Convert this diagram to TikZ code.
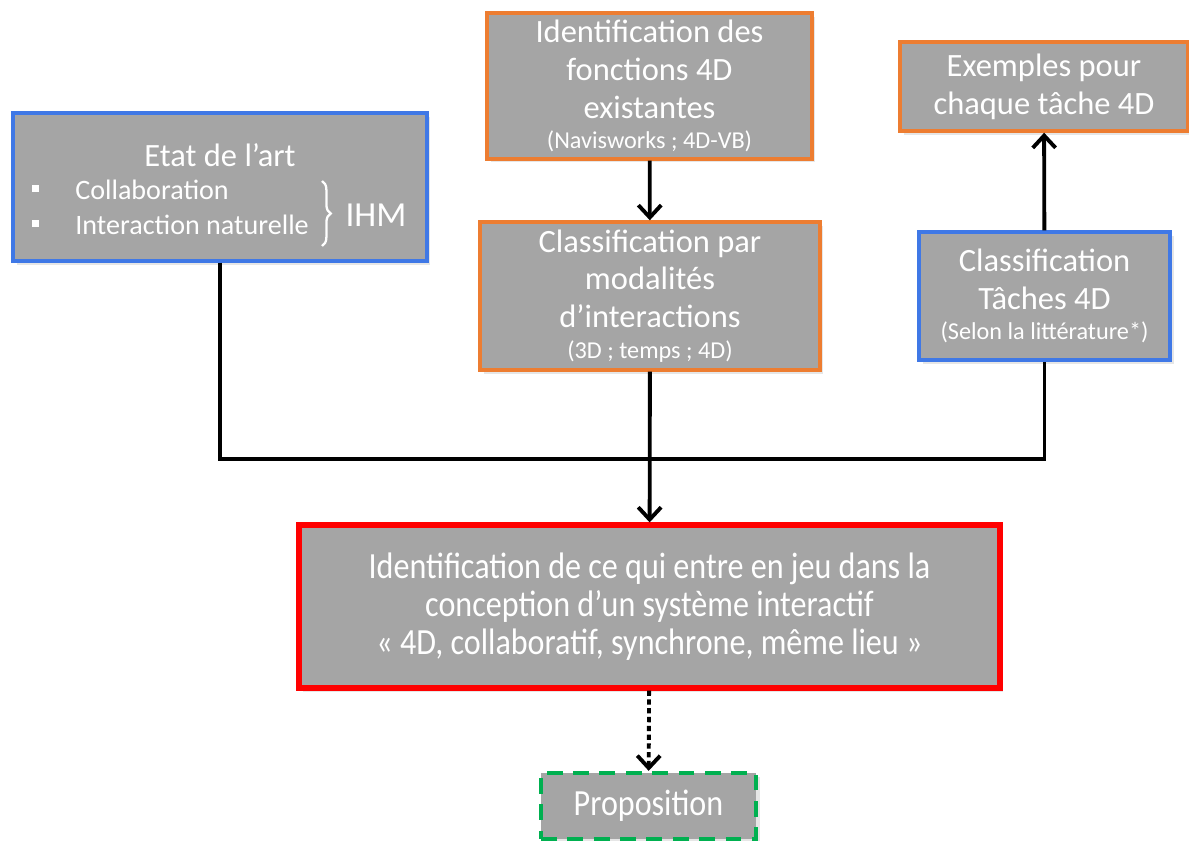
\documentclass[tikz,border=0pt]{standalone}
\usepackage{fontspec}
\setmainfont{Carlito}
\newfontfamily\narrowfont[FakeStretch=0.87]{Carlito}
\usepackage{tikz}
\usetikzlibrary{arrows.meta}
\usetikzlibrary{shadows}
\usetikzlibrary{decorations.pathreplacing}

\definecolor{boxgray}{HTML}{A5A5A5}
\definecolor{boxorange}{HTML}{ED7D31}
\definecolor{boxblue}{HTML}{3F78E6}
\definecolor{boxred}{HTML}{FF0000}
\definecolor{boxgreen}{HTML}{00B050}

\newcommand{\boxfont}{\fontsize{18.5}{21.5}\selectfont}
\newcommand{\widefont}{\narrowfont\fontsize{21}{21.5}\selectfont}
\newcommand{\etatfont}{\fontsize{16}{19.8}\selectfont}
\newcommand{\notefont}{\fontsize{13.8}{16}\selectfont}

\tikzset{
  box/.style = {rectangle, fill = boxgray, text = white, align = center, inner sep = 2pt,
    font = \boxfont, line width = 2pt,
    drop shadow = {opacity = .2, shadow xshift = 2pt, shadow yshift = -2pt}},
  orangebox/.style = {box, draw = boxorange},
  bluebox/.style = {box, draw = boxblue},
  redbox/.style = {box, draw = boxred, line width = 3pt, font = \widefont},
  greenbox/.style = {box, draw = boxgreen, line width = 2.5pt, dash pattern = on 9pt off 6pt, font = \widefont},
  link/.style = {line width = 2.2pt},
  arr/.style = {link, -{Straight Barb[length = 7pt, width = 13pt]}}
}

\begin{document}
\begin{tikzpicture}[x = .02cm, y = -.02cm]
 \useasboundingbox (0, 0) rectangle (1189, 841);

  % boxes
  \node[bluebox, minimum width = 8.28cm, minimum height = 2.96cm] (etat) at (220, 187) {};
  \node[orangebox, minimum width = 6.5cm, minimum height = 2.92cm] (fonctions) at (649.5, 86)
    {Identification des\\ fonctions 4D\\ existantes\\[-4pt] {\notefont (Navisworks ; 4D-VB)}};
  \node[orangebox, minimum width = 6.8cm, minimum height = 2.96cm] (modal) at (650, 296)
    {Classification par\\ modalités\\ d’interactions\\[-4pt] {\notefont (3D ; temps ; 4D)}};
  \node[orangebox, minimum width = 5.76cm, minimum height = 1.78cm] (exemples) at (1044, 86.5)
    {Exemples pour\\ chaque tâche 4D};
  \node[bluebox, minimum width = 5.02cm, minimum height = 2.56cm] (taches) at (1044.5, 296)
    {Classification\\ Tâches 4D\\[-4pt] {\notefont (Selon la littérature*)}};
  \node[redbox, minimum width = 14.02cm, minimum height = 3.26cm] (conception) at (649.5, 606.5)
    {Identification de ce qui entre en jeu dans la\\
     conception d’un système interactif\\
     « 4D, collaboratif, synchrone, même lieu »};
  \node[greenbox, minimum width = 4.3cm, minimum height = 1.32cm] (prop) at (648.5, 806) {Proposition};

  % contents of the state of the art box
  \node[text = white] (etattitle) at (220, 155) {\fontsize{18.5}{21.5}\selectfont Etat de l’art};
  \node[text = white, anchor = west, inner sep = 0] (collab) at (75, 190) {\etatfont Collaboration};
  \node[text = white, anchor = west, inner sep = 0] (natural) at (75, 225) {\etatfont Interaction naturelle};
  \fill[white] (32, 185) rectangle (39, 192);
  \fill[white] (32, 220) rectangle (39, 227);
  \draw[white, line width = 1.3pt, decorate, decoration = {brace, amplitude = 5pt}] (322, 181) -- (322, 246);
  \node[text = white] (ihm) at (376, 215) {\fontsize{20}{24}\selectfont IHM};

  % connectors
  \coordinate (junction) at (650, 459);
  \draw[arr] (fonctions) -- (modal);
  \draw[arr] (taches) -- (exemples);
  \draw[link] (etat.south) |- (junction) -| (taches.south);
  \draw[arr] (modal) -- (conception);
  \draw[arr, dash pattern = on 3pt off 2pt] (conception) -- (prop);
 \end{tikzpicture}
\end{document}
